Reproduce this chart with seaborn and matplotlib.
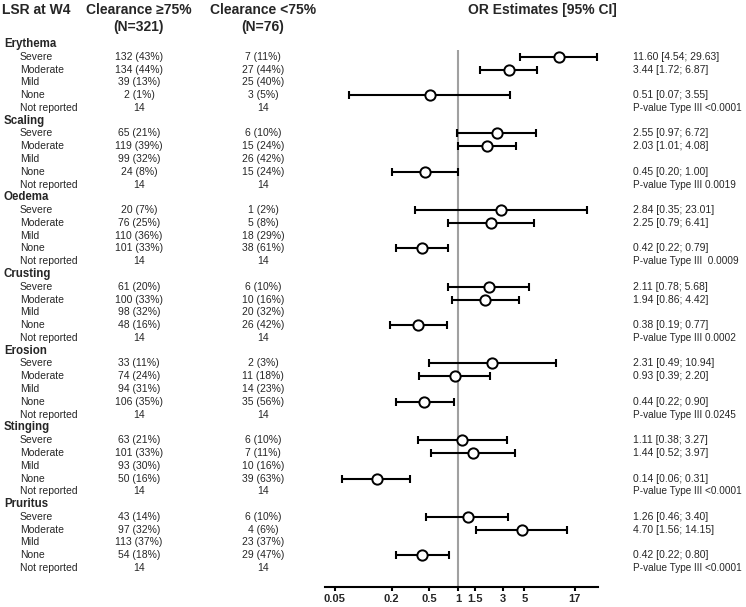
import numpy as np
import pandas as pd
import matplotlib
matplotlib.use("Agg")
import matplotlib.pyplot as plt
from matplotlib.ticker import NullLocator
import seaborn as sns

groups = ["Erythema", "Scaling", "Oedema", "Crusting", "Erosion", "Stinging", "Pruritus"]
levels = ["Severe", "Moderate", "Mild", "None", "Not reported"]

# Clearance >=75% (N=321): n and % per level (Severe, Moderate, Mild, None)
n_high = [[132, 134, 39, 2], [65, 119, 99, 24], [20, 76, 110, 101], [61, 100, 98, 48],
          [33, 74, 94, 106], [63, 101, 93, 50], [43, 97, 113, 54]]
pct_high = [[43, 44, 13, 1], [21, 39, 32, 8], [7, 25, 36, 33], [20, 33, 32, 16],
            [11, 24, 31, 35], [21, 33, 30, 16], [14, 32, 37, 18]]
# Clearance <75% (N=76)
n_low = [[7, 27, 25, 3], [6, 15, 26, 15], [1, 5, 18, 38], [6, 10, 20, 26],
         [2, 11, 14, 35], [6, 7, 10, 39], [6, 4, 23, 29]]
pct_low = [[11, 44, 40, 5], [10, 24, 42, 24], [2, 8, 29, 61], [10, 16, 32, 42],
           [3, 18, 23, 56], [10, 11, 16, 63], [10, 6, 37, 47]]
not_reported_high = [14, 14, 14, 14, 14, 14, 14]
not_reported_low = [14, 14, 14, 14, 14, 14, 14]

# OR estimates vs Mild (Severe, Moderate, None)
or_levels = ["Severe", "Moderate", "None"]
or_est = [[11.60, 3.44, 0.51], [2.55, 2.03, 0.45], [2.84, 2.25, 0.42], [2.11, 1.94, 0.38],
          [2.31, 0.93, 0.44], [1.11, 1.44, 0.14], [1.26, 4.70, 0.42]]
or_lo = [[4.54, 1.72, 0.07], [0.97, 1.01, 0.20], [0.35, 0.79, 0.22], [0.78, 0.86, 0.19],
         [0.49, 0.39, 0.22], [0.38, 0.52, 0.06], [0.46, 1.56, 0.22]]
or_hi = [[29.63, 6.87, 3.55], [6.72, 4.08, 1.00], [23.01, 6.41, 0.79], [5.68, 4.42, 0.77],
         [10.94, 2.20, 0.90], [3.27, 3.97, 0.31], [3.40, 14.15, 0.80]]
p_values = ["<0.0001", "0.0019", " 0.0009", "0.0002", "0.0245", "<0.0001", "<0.0001"]

x_ticks = [0.05, 0.2, 0.5, 1, 1.5, 3, 5, 17]

# build long table of the OR rows
rows = []
for g, grp in enumerate(groups):
    for k, lev in enumerate(or_levels):
        rows.append({"group": grp, "level": lev,
                     "row": g * 6 + 1 + levels.index(lev),
                     "est": or_est[g][k], "lo": or_lo[g][k], "hi": or_hi[g][k]})
df = pd.DataFrame(rows)

sns.set_style("white")
plt.rcParams["font.family"] = ["Liberation Sans", "DejaVu Sans"]

W, H = 746, 607
fig = plt.figure(figsize=(W / 100, H / 100), dpi=100)

# row r sits at pixel y = 44 + 12.78 * r
y_top = -44 / 12.78
y_bot = (H - 44) / 12.78
axis_px = 587
y_axis = (axis_px - 44) / 12.78

# table text
tab = fig.add_axes([0, 0, 1, 1], zorder=0)
tab.axis("off")
tab.set_xlim(0, W)
tab.set_ylim(y_bot, y_top)

hdr = dict(fontsize=10, fontweight="bold", va="center")
tab.text(2, -2.66, "LSR at W4", ha="left", **hdr)
tab.text(139, -2.66, "Clearance \u226575%", ha="center", **hdr)
tab.text(139, -1.33, "(N=321)", ha="center", **hdr)
tab.text(263, -2.66, "Clearance <75%", ha="center", **hdr)
tab.text(263, -1.33, "(N=76)", ha="center", **hdr)
tab.text(542, -2.66, "OR Estimates [95% CI]", ha="center", **hdr)

fs = 7.5
for g, grp in enumerate(groups):
    r0 = g * 6
    tab.text(4, r0, grp, fontsize=8.3, fontweight="bold", va="center", ha="left")
    for k, lev in enumerate(levels):
        r = r0 + 1 + k
        tab.text(20, r, lev, fontsize=fs, va="center", ha="left")
        if k < 4:
            s1 = f"{n_high[g][k]} ({pct_high[g][k]}%)"
            s2 = f"{n_low[g][k]} ({pct_low[g][k]}%)"
        else:
            s1 = str(not_reported_high[g])
            s2 = str(not_reported_low[g])
        tab.text(139, r, s1, fontsize=fs, va="center", ha="center")
        tab.text(263, r, s2, fontsize=fs, va="center", ha="center")
    for k, lev in enumerate(or_levels):
        r = r0 + 1 + levels.index(lev)
        tab.text(633, r, f"{or_est[g][k]:.2f} [{or_lo[g][k]:.2f}; {or_hi[g][k]:.2f}]",
                 fontsize=fs, va="center", ha="left")
    tab.text(633, r0 + 5, f"P-value Type III {p_values[g]}", fontsize=7.2,
             va="center", ha="left")

# forest plot
ax = fig.add_axes([325 / W, (H - axis_px) / H, 273 / W, axis_px / H], zorder=1)
ax.patch.set_alpha(0)
ax.set_xscale("log")
ax.set_xlim(0.0395, 30)
ax.set_ylim(y_axis, y_top)

ax.vlines(1, 0.45, y_axis, color="#a0a0a0", lw=1.5, zorder=1)
ax.errorbar(df["est"], df["row"], xerr=[df["est"] - df["lo"], df["hi"] - df["est"]],
            fmt="none", ecolor="black", elinewidth=1.5, capsize=2.8, capthick=1.5, zorder=2)
sns.scatterplot(data=df, x="est", y="row", ax=ax, s=55, color="white",
                edgecolor="black", linewidth=1.4, zorder=3, legend=False)

for side in ["top", "left", "right"]:
    ax.spines[side].set_visible(False)
ax.spines["bottom"].set_linewidth(1.5)
ax.spines["bottom"].set_color("black")
ax.set_yticks([])
ax.set_xticks(x_ticks)
ax.set_xticklabels([f"{t:g}" for t in x_ticks], fontsize=8, fontweight="bold")
ax.xaxis.set_minor_locator(NullLocator())
ax.tick_params(axis="x", direction="out", length=3, width=1.5, pad=2, color="black",
               bottom=True)
ax.set_xlabel("")
ax.set_ylabel("")

fig.savefig("out.png", dpi=100)
